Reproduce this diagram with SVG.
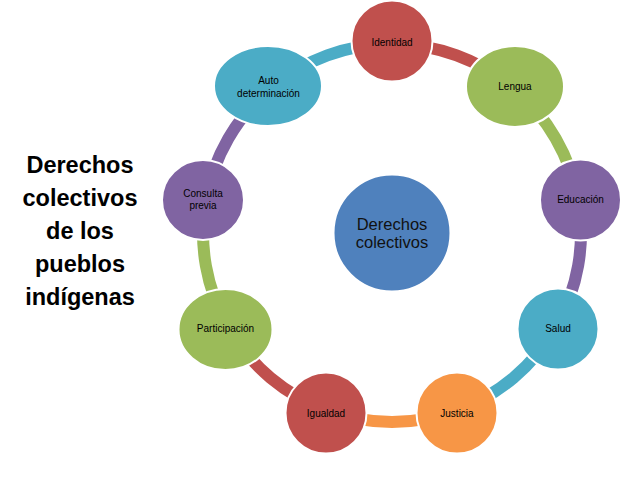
<svg xmlns="http://www.w3.org/2000/svg" width="638" height="479" viewBox="0 0 638 479">
<style>
.arc{fill:none;stroke-width:12}
.node{stroke:#fff;stroke-width:2}
.lbl{font-family:"Liberation Sans",Arial,sans-serif;font-size:10px;fill:#000;text-anchor:middle}
.ctr{font-family:"Liberation Sans",Arial,sans-serif;font-size:16.5px;fill:#111;text-anchor:middle}
.title{font-family:"Liberation Sans",Arial,sans-serif;font-size:23.5px;font-weight:bold;fill:#000;text-anchor:middle}
</style>
<rect width="638" height="479" fill="#fff"/>
<g id="title">
<text class="title" x="80" y="173">Derechos</text>
<text class="title" x="80" y="206">colectivos</text>
<text class="title" x="80" y="239">de los</text>
<text class="title" x="80" y="272">pueblos</text>
<text class="title" x="80" y="305">indígenas</text>
</g>
<g id="connectors">
<path class="arc" stroke="#C0504D" d="M392,44 A189,189 0 0 1 513.5,88.2"/>
<path class="arc" stroke="#9BBB59" d="M513.5,88.2 A189,189 0 0 1 578.1,200.2"/>
<path class="arc" stroke="#8064A2" d="M578.1,200.2 A189,189 0 0 1 555.7,327.5"/>
<path class="arc" stroke="#4BACC6" d="M555.7,327.5 A189,189 0 0 1 456.6,410.6"/>
<path class="arc" stroke="#F79646" d="M456.6,410.6 A189,189 0 0 1 327.4,410.6"/>
<path class="arc" stroke="#C0504D" d="M327.4,410.6 A189,189 0 0 1 228.3,327.5"/>
<path class="arc" stroke="#9BBB59" d="M228.3,327.5 A189,189 0 0 1 205.9,200.2"/>
<path class="arc" stroke="#8064A2" d="M205.9,200.2 A189,189 0 0 1 270.5,88.2"/>
<path class="arc" stroke="#4BACC6" d="M270.5,88.2 A189,189 0 0 1 392,44"/>
</g>
<g id="center">
<circle class="node" cx="392" cy="233" r="58.5" fill="#4F81BD"/>
<text class="ctr" x="392" y="229.5">Derechos</text>
<text class="ctr" x="392" y="248">colectivos</text>
</g>
<g id="identidad">
<ellipse class="node" cx="392" cy="41" rx="40.5" ry="40.5" fill="#C0504D"/>
<text class="lbl" x="392" y="45.5">Identidad</text>
</g>
<g id="lengua">
<ellipse class="node" cx="515" cy="86.5" rx="49" ry="40.5" fill="#9BBB59"/>
<text class="lbl" x="515" y="90">Lengua</text>
</g>
<g id="educacion">
<ellipse class="node" cx="580.5" cy="200" rx="40.5" ry="40.5" fill="#8064A2"/>
<text class="lbl" x="580.5" y="203">Educación</text>
</g>
<g id="salud">
<ellipse class="node" cx="558" cy="329" rx="40.5" ry="40.5" fill="#4BACC6"/>
<text class="lbl" x="558" y="332">Salud</text>
</g>
<g id="justicia">
<ellipse class="node" cx="457" cy="413" rx="40.5" ry="40.5" fill="#F79646"/>
<text class="lbl" x="457" y="416.5">Justicia</text>
</g>
<g id="igualdad">
<ellipse class="node" cx="326" cy="413" rx="40.5" ry="40.5" fill="#C0504D"/>
<text class="lbl" x="326" y="416.5">Igualdad</text>
</g>
<g id="participacion">
<ellipse class="node" cx="225.5" cy="329.5" rx="47" ry="40.5" fill="#9BBB59"/>
<text class="lbl" x="225.5" y="332">Participación</text>
</g>
<g id="consulta">
<ellipse class="node" cx="203" cy="200" rx="41" ry="40" fill="#8064A2"/>
<text class="lbl" x="203" y="197">Consulta</text>
<text class="lbl" x="203" y="209">previa</text>
</g>
<g id="autodeterminacion">
<ellipse class="node" cx="268" cy="86" rx="54" ry="40" fill="#4BACC6"/>
<text class="lbl" x="268.5" y="84">Auto</text>
<text class="lbl" x="268.5" y="96.5">determinación</text>
</g>
</svg>
